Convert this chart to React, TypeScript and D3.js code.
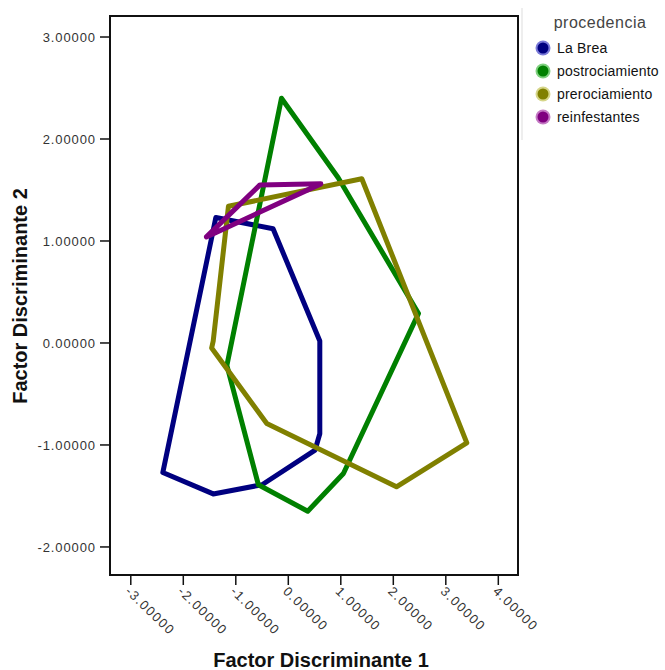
import React from "react";
import * as d3 from "d3";

const groups = ["La Brea", "postrociamiento", "prerociamiento", "reinfestantes"];
const colors = ["#000080", "#008000", "#808000", "#800080"];
const halo = ["#7a7ad8", "#7fd07f", "#d6d68a", "#c47ac4"];

const laBrea: [number, number][] = [
  [-1.38, 1.23], [-0.29, 1.12], [0.6, 0.02], [0.6, -0.89], [0.51, -1.05],
  [-0.5, -1.39], [-1.43, -1.48], [-2.39, -1.27],
];
const postrociamiento: [number, number][] = [
  [-0.13, 2.4], [0.95, 1.62], [2.48, 0.29], [1.05, -1.28], [0.37, -1.65],
  [-0.57, -1.39], [-1.17, -0.22],
];
const prerociamiento: [number, number][] = [
  [-1.14, 1.34], [1.4, 1.61], [3.4, -0.98], [2.06, -1.41], [-0.41, -0.79],
  [-1.46, -0.05], [-1.43, 0.02],
];
const reinfestantes: [number, number][] = [
  [-1.56, 1.04], [-0.54, 1.55], [0.62, 1.56],
];
const series = [laBrea, postrociamiento, prerociamiento, reinfestantes];

const xTicks = [-3, -2, -1, 0, 1, 2, 3, 4];
const yTicks = [-2, -1, 0, 1, 2, 3];

export default function App() {
  const W = 665, H = 670;
  const L = 110, T = 16, R = 518, B = 575;
  const x = d3.scaleLinear().domain([-3.396, 4.375]).range([L, R]);
  const y = d3.scaleLinear().domain([-2.275, 3.206]).range([B, T]);
  const line = d3.line<[number, number]>().x(d => x(d[0])).y(d => y(d[1])).curve(d3.curveLinearClosed);
  const font = "'Liberation Sans', Arial, sans-serif";
  return (
    <svg width={W} height={H} style={{ position: "absolute", left: 0, top: 0, background: "#fff" }} fontFamily={font}>
      <rect x={0} y={0} width={W} height={H} fill="#fff" />
      {series.map((s, i) => (
        <path key={i} d={line(s) || ""} fill="none" stroke={colors[i]} strokeWidth={5} strokeLinejoin="round" strokeLinecap="round" />
      ))}
      <rect x={L} y={T} width={R - L} height={B - T} fill="none" stroke="#111" strokeWidth={2} />
      {yTicks.map(t => (
        <g key={t}>
          <line x1={L - 10} x2={L} y1={y(t)} y2={y(t)} stroke="#111" strokeWidth={1.5} />
          <text x={L - 14} y={y(t)} dy="0.35em" textAnchor="end" fontSize={13} letterSpacing={0.9} fill="#333">{t.toFixed(5)}</text>
        </g>
      ))}
      {xTicks.map(t => (
        <g key={t}>
          <line x1={x(t)} x2={x(t)} y1={B} y2={B + 10} stroke="#111" strokeWidth={1.5} />
          <text transform={`translate(${x(t) - 3},${B + 14}) rotate(44)`} fontSize={13} letterSpacing={1.4} fill="#333" dy="0.35em">{t.toFixed(5)}</text>
        </g>
      ))}
      <text x={321} y={667} textAnchor="middle" fontSize={20} fontWeight="bold" fill="#111">Factor Discriminante 1</text>
      <text transform={`translate(27,296) rotate(-90)`} textAnchor="middle" fontSize={20} fontWeight="bold" fill="#111">Factor Discriminante 2</text>
      <line x1={522} x2={522} y1={8} y2={140} stroke="#ddd" strokeWidth={1} />
      <text x={600} y={28} textAnchor="middle" fontSize={16} letterSpacing={0.5} fill="#444">procedencia</text>
      {groups.map((g, i) => (
        <g key={g} transform={`translate(543,${48 + i * 23})`}>
          <circle r={7.5} fill={halo[i]} />
          <circle r={5.5} fill={colors[i]} />
          <text x={14} dy="0.35em" fontSize={14} letterSpacing={0.2} fill="#111">{g}</text>
        </g>
      ))}
    </svg>
  );
}
